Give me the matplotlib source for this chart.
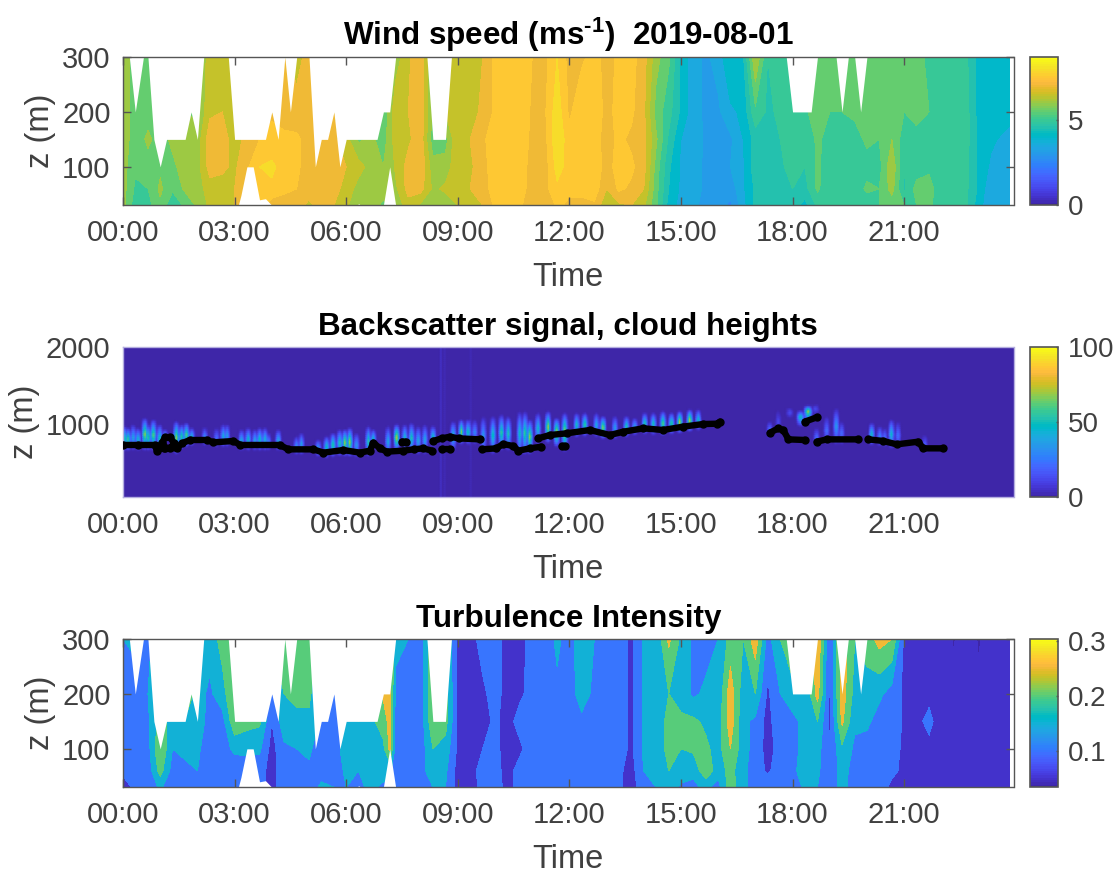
import numpy as np
import matplotlib
matplotlib.use("Agg")
import matplotlib.pyplot as plt
from matplotlib.colors import ListedColormap, Normalize
from matplotlib.cm import ScalarMappable

plt.rcParams['font.family'] = ['Liberation Sans', 'DejaVu Sans']
plt.rcParams['mathtext.fontset'] = 'custom'
plt.rcParams['mathtext.rm'] = 'Liberation Sans:bold'
plt.rcParams['mathtext.default'] = 'rm'

PARULA = [[.2422,.1504,.6603],[.2504,.1650,.7076],[.2578,.1818,.7511],[.2647,.1978,.7952],[.2706,.2147,.8364],[.2751,.2342,.8710],[.2783,.2559,.8991],[.2803,.2782,.9221],[.2813,.3006,.9414],[.2810,.3228,.9579],[.2795,.3447,.9717],[.2760,.3667,.9829],[.2699,.3892,.9906],[.2602,.4123,.9952],[.2440,.4358,.9988],[.2206,.4603,.9973],[.1963,.4847,.9892],[.1834,.5074,.9798],[.1786,.5289,.9682],[.1764,.5499,.9520],[.1687,.5703,.9359],[.1540,.5902,.9218],[.1460,.6091,.9079],[.1380,.6276,.8973],[.1248,.6459,.8883],[.1113,.6635,.8763],[.0952,.6798,.8598],[.0689,.6948,.8394],[.0297,.7082,.8163],[.0036,.7203,.7917],[.0067,.7312,.7660],[.0433,.7411,.7394],[.0964,.7500,.7120],[.1408,.7584,.6842],[.1717,.7670,.6554],[.1938,.7758,.6251],[.2161,.7843,.5923],[.2470,.7918,.5567],[.2906,.7973,.5188],[.3406,.8008,.4789],[.3909,.8029,.4354],[.4456,.8024,.3909],[.5044,.7993,.3480],[.5616,.7942,.3045],[.6174,.7876,.2612],[.6720,.7793,.2227],[.7242,.7698,.1910],[.7738,.7598,.1646],[.8203,.7498,.1535],[.8634,.7406,.1596],[.9035,.7330,.1774],[.9393,.7288,.2100],[.9728,.7298,.2394],[.9956,.7434,.2371],[.9970,.7659,.2199],[.9952,.7861,.1990],[.9892,.8134,.1885],[.9786,.8386,.1766],[.9676,.8639,.1643],[.9610,.8890,.1537],[.9597,.9135,.1423],[.9628,.9373,.1265],[.9691,.9606,.1064],[.9769,.9839,.0805]]
parula = ListedColormap(PARULA, name='parula')

# time columns (hours) and heights (m)
time_h = [0,.33,.67,1,1.33,1.67,2,2.33,2.67,3,3.33,3.67,4,4.33,4.67,5,5.33,5.67,6,6.33,6.67,7,7.17,7.33,7.67,8,8.33,8.67,9,9.33,9.67,10,10.33,10.67,11,11.33,11.67,12,12.33,12.67,13,13.33,13.67,14,14.33,14.67,15,15.33,15.67,16,16.33,16.67,17,17.33,17.67,18,18.33,18.67,19,19.33,19.67,20,20.33,20.67,21,21.33,21.67,22,22.33,22.67,23,23.33,23.83]
heights = [30,60,100,150,200,300]

wind_speed = [
[6.2,6.2,6.2,6.3,6.3,6.2],[5.2,5.4,5.6,5.7,5.7,5.8],[5.3,5.5,5.8,6.1,5.8,5.7],[5.9,6.1,5.9,5.8,5.8,5.8],
[5.1,5.6,5.9,6.1,6.1,6.1],[5.6,6.1,6.2,6.2,6.0,6.0],[6.1,6.2,6.3,6.2,5.9,6.0],[6.6,6.8,7.2,7.3,6.9,6.7],
[6.7,6.8,7.1,7.3,7.0,6.7],[7.0,7.0,6.9,6.7,6.7,6.7],[7.5,7.6,7.4,7.2,6.9,6.9],[7.8,7.9,8.0,7.5,7.2,7.0],
[7.2,7.9,8.1,7.7,7.4,7.2],[7.3,7.6,7.8,7.6,7.3,7.0],[7.2,7.5,7.7,7.6,7.2,6.8],[6.9,7.2,7.0,7.3,7.2,7.2],
[7.2,7.4,7.3,7.1,6.9,6.9],[7.0,7.2,7.4,7.1,7.0,6.9],[6.6,6.8,7.0,6.7,6.7,6.7],[6.1,6.3,6.7,5.9,6.0,6.0],
[6.2,6.2,6.3,6.1,6.0,6.0],[5.9,6.2,6.0,5.8,5.6,5.6],[6.0,6.1,6.1,6.2,6.2,6.0],[6.1,6.4,6.6,6.8,6.9,6.2],[6.8,7.2,7.2,6.9,7.0,6.9],
[6.4,7.2,7.4,7.3,7.4,7.4],[6.1,6.4,6.2,5.7,5.9,5.9],[6.2,6.6,6.2,5.8,6.5,6.5],[6.5,6.8,6.9,7.0,6.8,6.6],
[6.9,7.0,6.9,7.0,6.8,6.7],[7.0,7.3,7.3,7.4,7.1,7.0],[7.6,7.7,7.8,7.8,7.6,7.6],[7.5,7.6,7.8,7.7,7.6,7.6],
[7.6,7.6,7.9,8.0,7.9,7.6],[7.1,7.4,7.2,7.3,7.4,7.5],[7.0,7.3,7.2,7.3,7.4,7.3],[7.6,7.9,8.2,8.4,8.3,8.0],
[7.4,7.6,7.8,7.7,7.4,7.3],[7.4,7.6,7.7,7.8,7.9,7.4],[7.4,7.8,7.8,7.7,7.7,7.7],[6.6,7.0,7.3,7.3,7.4,7.3],
[6.9,7.6,7.7,7.6,7.6,7.6],[7.0,7.4,7.6,7.4,7.6,7.7],[6.6,7.0,7.2,7.2,7.1,7.2],[5.6,5.7,5.8,6.1,5.8,6.2],
[4.3,4.5,4.6,4.9,5.2,5.6],[3.8,3.9,3.9,4.0,4.4,4.4],[3.7,3.7,3.7,3.8,3.7,3.7],[3.2,3.4,3.4,3.4,3.4,3.4],
[3.2,3.4,3.4,3.4,3.4,3.7],[2.9,3.2,3.5,3.4,3.9,4.5],[3.8,3.9,3.9,4.0,4.1,4.4],[4.6,4.6,4.8,4.7,5.4,6.5],
[4.8,4.9,4.8,4.9,4.9,5.0],[4.8,4.9,4.9,5.0,5.1,5.4],[4.8,5.0,5.2,5.1,5.2,5.4],[4.3,4.8,5.0,5.1,5.4,5.4],
[5.1,5.6,5.6,5.6,5.8,5.8],[5.0,5.1,5.2,5.3,5.5,5.8],[5.1,5.2,5.2,5.3,5.5,5.6],[5.2,5.2,5.2,5.3,5.6,5.7],
[5.2,5.6,5.3,5.6,5.9,5.8],[5.5,5.5,5.3,5.5,5.7,5.7],[5.7,6.2,6.4,6.0,5.8,5.9],[5.5,4.9,5.0,5.2,5.5,5.6],
[5.5,5.7,5.2,5.4,5.6,5.8],[5.6,5.7,5.4,5.5,5.5,5.3],[5.2,5.2,5.2,5.2,5.2,5.3],[5.1,5.1,5.1,5.2,5.2,5.1],
[5.1,5.1,5.1,5.2,5.2,5.1],[4.2,4.4,4.4,4.4,4.3,4.3],[3.6,3.6,3.9,4.1,4.2,4.2],[3.6,3.6,3.7,3.8,4.2,4.2]]

turb_intensity = [
[.08,.11,.12,.12,.13,.15],[.11,.12,.12,.12,.13,.16],[.11,.12,.13,.14,.15,.13],[.16,.22,.25,.22,.2,.2],
[.11,.13,.15,.18,.2,.2],[.12,.13,.17,.19,.26,.2],[.14,.15,.16,.18,.17,.2],[.13,.12,.12,.13,.14,.17],
[.15,.12,.13,.13,.18,.22],[.12,.12,.16,.24,.25,.26],[.13,.13,.16,.22,.24,.24],[.12,.12,.16,.21,.24,.24],
[.08,.08,.08,.10,.09,.2],[.13,.13,.14,.18,.2,.22],[.12,.13,.15,.19,.21,.22],[.12,.14,.16,.19,.21,.22],
[.16,.13,.12,.14,.15,.15],[.15,.12,.13,.12,.11,.15],[.15,.16,.17,.17,.17,.2],[.14,.15,.17,.2,.22,.22],
[.16,.17,.17,.19,.2,.22],[.14,.17,.19,.22,.26,.26],[.14,.16,.26,.27,.27,.27],[.12,.12,.13,.13,.14,.16],[.12,.13,.13,.13,.13,.15],
[.12,.13,.12,.12,.12,.12],[.15,.18,.2,.24,.25,.25],[.15,.16,.18,.22,.22,.22],[.08,.08,.09,.09,.09,.08],
[.07,.08,.09,.09,.09,.08],[.12,.12,.1,.08,.09,.12],[.13,.12,.12,.11,.12,.12],[.08,.08,.07,.08,.08,.08],
[.12,.12,.09,.12,.09,.08],[.15,.15,.13,.12,.12,.12],[.14,.12,.12,.12,.12,.12],[.12,.12,.12,.12,.14,.16],
[.12,.12,.12,.12,.13,.13],[.13,.12,.13,.14,.17,.18],[.12,.12,.12,.13,.14,.15],[.12,.12,.12,.12,.12,.15],
[.11,.11,.12,.12,.12,.12],[.07,.08,.09,.09,.09,.09],[.14,.15,.16,.16,.16,.16],[.15,.17,.16,.16,.16,.16],
[.18,.2,.22,.22,.2,.26],[.14,.18,.2,.21,.18,.19],[.14,.16,.21,.21,.14,.14],[.16,.24,.21,.19,.16,.13],
[.13,.17,.18,.17,.16,.15],[.23,.22,.25,.28,.28,.22],[.16,.16,.17,.16,.17,.2],[.13,.13,.13,.14,.2,.28],
[.14,.09,.08,.08,.09,.13],[.12,.13,.12,.14,.15,.2],[.12,.14,.14,.14,.17,.27],[.16,.17,.16,.16,.15,.15],
[.15,.16,.17,.2,.27,.3],[.12,.11,.1,.09,.09,.09],[.17,.17,.19,.26,.28,.28],[.12,.13,.14,.16,.18,.2],
[.13,.14,.13,.16,.18,.22],[.12,.13,.13,.13,.16,.27],[.09,.11,.12,.14,.13,.25],[.09,.09,.09,.09,.09,.09],
[.08,.08,.09,.09,.09,.08],[.08,.08,.09,.11,.09,.08],[.08,.08,.08,.08,.08,.08],[.08,.08,.08,.07,.07,.045],
[.08,.08,.08,.08,.08,.08],[.07,.07,.07,.07,.06,.045],[.07,.07,.07,.07,.07,.07],[.07,.07,.07,.07,.07,.07]]

# upper limit of valid lidar data, and a gap at the ground
top_t = [0,.17,.33,.55,.67,.83,1,1.17,1.67,1.83,2,2.17,2.83,3,3.83,4,4.17,4.35,4.5,4.67,5,5.17,5.33,5.5,5.67,5.83,6,6.83,7,7.17,7.33,8.17,8.33,8.67,8.83,17.83,18,18.5,18.67,19.17,19.33,19.5,19.67,19.83,20,24]
top_z = [300,300,200,300,300,150,100,150,150,200,150,300,300,150,150,200,150,300,200,300,300,100,150,150,200,100,150,150,200,200,300,300,150,150,300,300,200,200,300,300,200,300,300,200,300,300]
hole_t = [0,3.1,3.17,3.33,3.5,3.67,3.83,4,6.3,6.33,6.4,7,7.17,7.33,24]
hole_z = [30,30,48,100,100,40,42,30,30,33,30,30,100,30,30]

# cloud base height, segments separated by NaN
cloud_t = [0,.4,.85,.92,.97,1.1,1.44,1.58,1.8,2.25,2.43,2.97,3.15,4.22,4.44,5.12,5.39,5.92,6.37,6.64,6.73,6.91,7.09,7.54,7.81,8.07,8.3,np.nan,
           1.04,1.13,1.27,1.37,1.27,1.13,1.04,np.nan,7.5,7.6,np.nan,8.34,8.57,8.79,9.02,9.6,np.nan,8.57,8.79,np.nan,
           9.64,10.04,10.22,10.49,10.63,10.94,11.25,np.nan,11.16,11.48,11.93,12.55,13.09,13.45,13.99,14.52,15.06,15.6,15.96,16.05,np.nan,11.8,11.88,np.nan,
           17.39,17.62,17.75,17.89,18.33,np.nan,18.33,18.65,np.nan,18.65,18.92,19.77,np.nan,20.04,20.44,20.8,21.38,21.51,22.05]
cloud_z = [723,723,723,640,690,690,679,744,788,788,757,775,723,723,666,666,623,657,623,649,753,679,636,649,666,679,649,np.nan,
           744,822,822,744,679,679,744,np.nan,766,766,np.nan,775,809,831,809,796,np.nan,670,670,np.nan,
           666,679,736,709,649,679,701,np.nan,809,853,875,918,853,896,940,918,962,996,1000,1027,np.nan,709,709,np.nan,
           883,940,918,796,788,np.nan,1027,1083,np.nan,766,796,796,np.nan,796,775,731,766,679,679]

# backscatter streaks above cloud base: time, top height, peak value
streak_t = [.05,.14,.28,.41,.59,.68,.82,.99,1.13,1.44,1.58,1.71,1.85,2.2,2.52,2.7,2.8,3.19,3.37,3.55,3.68,3.82,3.91,4.18,4.67,4.8,5.25,5.48,5.65,5.83,5.97,6.1,6.28,6.6,6.73,7.13,7.36,7.58,7.76,7.94,8.12,8.34,
            8.88,9.1,9.28,9.46,9.69,9.95,10.18,10.36,10.67,10.81,10.94,11.16,11.43,11.66,11.88,12.2,12.42,12.73,12.91,13.23,13.54,13.76,14.03,14.26,14.52,14.75,14.97,15.24,15.47,
            17.39,17.62,18.65,18.92,19.18,19.32,20.13,20.35,20.48,20.66,20.84,21.56]
streak_top = [980,958,1002,958,1088,1002,1067,1002,936,1045,1002,1023,958,958,958,1002,1002,936,958,936,958,958,893,936,849,893,806,849,893,936,936,958,893,980,936,980,1002,1002,1023,980,1002,980,
              1045,1067,1067,1067,1110,1110,1132,1110,1175,1175,1067,1154,1175,1088,1154,1154,1154,1154,1110,1110,1110,1088,1154,1154,1175,1154,1175,1197,1197,
              1045,1197,958,1110,1219,1045,1023,980,958,1067,1045,871]
streak_peak = [60,65,45,52,78,65,72,58,40,78,65,72,52,33,26,45,40,45,52,45,58,52,33,45,33,40,40,58,65,58,78,78,40,58,52,45,85,52,58,45,45,52,
               52,72,58,33,40,58,65,58,52,65,78,52,78,85,85,52,65,45,78,40,58,40,58,58,72,65,85,85,52,
               26,14,26,26,40,26,52,33,26,52,26,20]
# isolated cloud patch: time, lower, middle, upper heights, peak value
patch_t = [17.93,18.22,18.42,18.62]
patch_low = [1070,960,1020,1120]
patch_mid = [1150,1093,1167,1200]
patch_high = [1220,1180,1245,1260]
patch_peak = [15,55,80,15]
# faint full-height stripes
stripe_t = [8.55,8.65,9.35]
stripe_v = [5,4,3]

fig = plt.figure(figsize=(11.16, 8.74), dpi=100)
W, H = 1116., 874.
def axes_px(x0, x1, y0, y1):
    return fig.add_axes([x0/W, 1-y1/H, (x1-x0)/W, (y1-y0)/H])

FS = 21
FC = 20
FL = 23.5
FT = 22.6
TXT = '#404040'
EDGE = '#555555'
XT = [0,3,6,9,12,15,18,21]
XL = ['00:00','03:00','06:00','09:00','12:00','15:00','18:00','21:00']
XMAX = 23.94

def style(ax, yticks, ylim, boxed=True):
    ax.set_xlim(0, XMAX)
    ax.set_ylim(*ylim)
    ax.set_xticks(XT, XL)
    ax.set_yticks(yticks)
    ax.tick_params(axis='both', direction='in', top=boxed, right=boxed, length=5.8 if boxed else 0,
                   width=1, color=EDGE, labelsize=FS, labelcolor=TXT)
    ax.tick_params(axis='x', pad=10)
    ax.tick_params(axis='y', pad=9)
    ax.set_axisbelow(False)
    for s in ax.spines.values():
        s.set_color(EDGE if boxed else '#b4aee0')
        s.set_linewidth(1.0)
    ax.set_xlabel('Time', fontsize=FL, color=TXT, labelpad=11)
    ax.set_ylabel('z (m)', fontsize=FL, color=TXT, labelpad=4)

def cbar(y0, y1, vmin, vmax, ticks, labels):
    cax = axes_px(1030, 1058, y0, y1)
    cb = fig.colorbar(ScalarMappable(Normalize(vmin, vmax), parula), cax=cax)
    cb.set_ticks(ticks, labels=labels)
    cb.ax.tick_params(direction='in', length=1.5, width=1, color=EDGE, labelsize=FC, labelcolor=TXT, pad=7)
    cb.outline.set_edgecolor(EDGE)
    cb.outline.set_linewidth(1.2)

def lidar_panel(y0, y1, values, levels, vmin, vmax):
    ax = axes_px(123, 1013.5, y0, y1)
    Z = np.array(values).T
    norm = Normalize(vmin, vmax)
    cols = [parula(norm(l)) for l in levels[:-1]]
    ax.contourf(time_h, heights, Z, levels=levels, colors=cols, zorder=1)
    ax.fill_between(top_t, top_z, 300, color='white', lw=0, zorder=1.5)
    ax.fill_between(hole_t, 30, hole_z, color='white', lw=0, zorder=1.5)
    style(ax, [100,200,300], (30.5,300))
    return ax

# --- wind speed
ax1 = lidar_panel(57, 205, wind_speed, np.arange(0, 9.01, .5), 0, 8.7)
ax1.set_title('Wind speed (ms$^{\\text{-}1}$)  2019-08-01', fontsize=FT, fontweight='bold', color='k', pad=9)
cbar(57, 205, 0, 8.7, [0,5], ['0','5'])

# --- backscatter
ax2 = axes_px(123, 1013.5, 347, 497)
tg = np.arange(0, 24.01, 1/30)
zg = np.arange(40, 2001, 25.)
B = np.zeros((zg.size, tg.size))
ct = np.array(cloud_t); cz = np.array(cloud_z, float)
ok = ~np.isnan(ct)
order = np.argsort(ct[ok])
ct_s, cz_s = ct[ok][order], cz[ok][order]
def add(t, lo, mid, hi, v, w):
    prof_t = np.interp(tg, [t-w, t, t+w], [0, 1, 0])
    prof_z = np.interp(zg, [lo, mid, hi], [0, v, 0])
    np.maximum(B, np.outer(prof_z, prof_t), out=B)
for t, hi, v in zip(streak_t, streak_top, streak_peak):
    lo = np.interp(t, ct_s, cz_s) - 80
    add(t, lo, lo + .5*(hi-lo), hi, v, .1)
for t, lo, mid, hi, v in zip(patch_t, patch_low, patch_mid, patch_high, patch_peak):
    add(t, lo, mid, hi, v, .13)
for t, v in zip(stripe_t, stripe_v):
    B = B + v*np.interp(tg, [t-.06, t, t+.06], [0, 1, 0])[None, :]
ax2.pcolormesh(tg, zg, B, cmap=parula, vmin=0, vmax=100, shading='gouraud', zorder=1)
ax2.plot(cloud_t, cloud_z, color='k', lw=4.6, marker='o', ms=5, solid_capstyle='round', solid_joinstyle='round', zorder=3)
style(ax2, [1000,2000], (45,2000), boxed=False)
ax2.set_title('Backscatter signal, cloud heights', fontsize=FT, fontweight='bold', color='k', pad=9)
cbar(347, 497, 0, 100, [0,50,100], ['0','50','100'])

# --- turbulence intensity
ax3 = lidar_panel(639, 787, turb_intensity, np.array([.03,.05,.1,.15,.2,.25,.3,.35]), .035, .304)
ax3.set_title('Turbulence Intensity', fontsize=FT, fontweight='bold', color='k', pad=9)
cbar(639, 787, .035, .304, [.1,.2,.3], ['0.1','0.2','0.3'])

fig.savefig('out.png', dpi=100)
